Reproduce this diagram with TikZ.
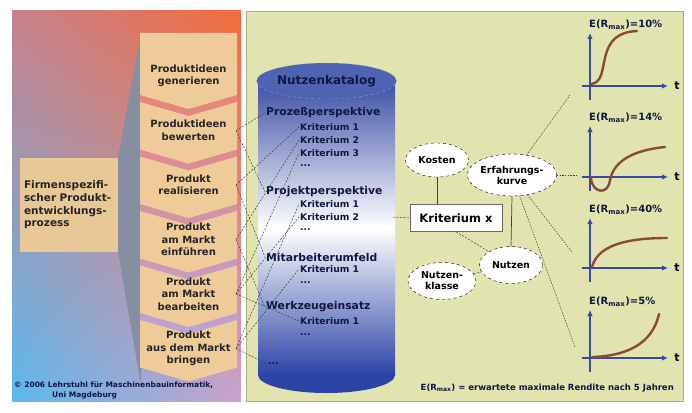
\documentclass[tikz,border=0pt]{standalone}
\usepackage{fontspec}
\setmainfont{DejaVu Sans}
\usetikzlibrary{arrows.meta,positioning,shapes.geometric,shadings}

\definecolor{panelgreen}{HTML}{E1E4AE}
\definecolor{panelrim}{HTML}{A9AC85}
\definecolor{steptan}{HTML}{EECB99}
\definecolor{boxtan}{HTML}{E9C898}
\definecolor{wedgegrey}{HTML}{868EA2}
\definecolor{bandred}{HTML}{E8857A}
\definecolor{bandlilac}{HTML}{BBA4D6}
\definecolor{bgmauve}{HTML}{C8828E}
\definecolor{bgorange}{HTML}{F26C3A}
\definecolor{bgblue}{HTML}{5BB9EE}
\definecolor{bglilac}{HTML}{C9A2CC}
\definecolor{cylblue}{HTML}{3C4FA5}
\definecolor{cyldark}{HTML}{2C44A6}
\definecolor{cyllid}{HTML}{4F63B3}
\definecolor{cylrim}{HTML}{8A9AD8}
\definecolor{navy}{HTML}{101844}
\definecolor{axisblue}{HTML}{3A4AA2}
\definecolor{curvebrown}{HTML}{8A4A38}
\definecolor{linkgrey}{HTML}{3E4434}

\begin{document}
\begin{tikzpicture}[x=1pt, y=-1pt, every node/.style={font=\bfseries},
  steptext/.style={font=\bfseries\fontsize{10}{12.5}\selectfont, align=center, text=black!85},
  firmbox/.style={fill=boxtan, text width=90pt, align=left, minimum height=94pt, inner sep=4pt,
    font=\bfseries\fontsize{10.5}{12.7}\selectfont, text=black!85},
  head/.style={anchor=west, inner sep=1pt, text=navy, font=\bfseries\fontsize{10.8}{12}\selectfont},
  crit/.style={anchor=west, inner sep=1pt, text=navy, font=\bfseries\fontsize{9.2}{11}\selectfont},
  bubble/.style={ellipse, draw, dashed, fill=white, inner sep=0pt, align=center,
    font=\bfseries\fontsize{9.5}{11}\selectfont},
  catlink/.style={linkgrey, line width=0.5pt, dash pattern=on 2pt off 1.5pt},
  chartaxis/.style={axisblue, line width=1.6pt, -{Latex[length=6pt,width=5.5pt]}},
  rcurve/.style={curvebrown, line width=2.4pt, line cap=round},
  charttitle/.style={anchor=west, inner sep=1pt, text=navy, font=\bfseries\fontsize{10}{12}\selectfont}]
\useasboundingbox (0,0) rectangle (692,412);
\fill[white] (0,0) rectangle (692,412);

% left panel: process
\shade[upper left=bgmauve, upper right=bgorange, lower left=bgblue, lower right=bglilac]
  (12,11) rectangle (241,401);
\fill[wedgegrey] (118,158) -- (141,32) -- (141,385) -- (118,252) -- cycle;
\node[firmbox] (fp) at (69,205) {Firmenspezifi-\\scher Produkt-\\entwicklungs-\\prozess};
\shade[top color=bandred, bottom color=bandlilac]
  (140,95) -- (188.5,109) -- (237,95) -- (237,330) -- (188.5,344) -- (140,330) -- cycle;
\foreach \lbl [count=\i] in {{Produktideen\\generieren}, {Produktideen\\bewerten}, {Produkt\\realisieren},
    {Produkt\\am Markt\\einführen}, {Produkt\\am Markt\\bearbeiten}, {Produkt\\aus dem Markt\\bringen}}{
  \pgfmathsetmacro\yb{95+54.5*(\i-1)}
  \pgfmathsetmacro\yt{\i==1 ? 33 : \yb-47.5}
  \pgfmathsetmacro\dn{\i==1 ? 0 : 14}
  \fill[steptan] (140,\yt) -- (188.5,\yt+\dn) -- (237,\yt) -- (237,\yb) -- (188.5,\yb+14) -- (140,\yb) -- cycle;
  \node[steptext] (s\i) at (188.5,\yb-19) {\lbl};
  \coordinate (c\i) at (236,\yb-19);
}
\node[anchor=west, inner sep=0pt, text=navy, font=\bfseries\fontsize{7.5}{9}\selectfont] (cp1) at (14,385)
  {© 2006 Lehrstuhl für Maschinenbauinformatik,};
\node[anchor=west, inner sep=0pt, text=navy, font=\bfseries\fontsize{7.5}{9}\selectfont] (cp2) at (52,395)
  {Uni Magdeburg};

% right panel: catalogue
\filldraw[fill=panelgreen, draw=panelrim] (246,11) rectangle (683,401);
\fill[cyldark] (326.5,375) ellipse [x radius=68.5, y radius=18];
\shade[top color=cylblue, bottom color=cyldark, middle color=white] (258,81) rectangle (395,375);
\node[ellipse, draw=cylrim, dashed, fill=cyllid, minimum width=137pt, minimum height=36pt, inner sep=0pt,
  text=navy, font=\bfseries\fontsize{12}{14}\selectfont] (kat) at (326.5,81) {Nutzenkatalog};

\node[head] (pp) at (265,113) {Prozeßperspektive};
\node[crit] (pp1) at (299,127) {Kriterium 1};
\node[crit] (pp2) at (299,140) {Kriterium 2};
\node[crit] (pp3) at (299,153) {Kriterium 3};
\node[crit] (ppd) at (299,166) {...};
\node[head] (pj) at (265,192) {Projektperspektive};
\node[crit] (pj1) at (299,204) {Kriterium 1};
\node[crit] (pj2) at (299,217) {Kriterium 2};
\node[crit] (pjd) at (299,230) {...};
\node[head] (ma) at (265,257) {Mitarbeiterumfeld};
\node[crit] (ma1) at (299,269) {Kriterium 1};
\node[crit] (mad) at (299,283) {...};
\node[head] (wz) at (265,307) {Werkzeugeinsatz};
\node[crit] (wz1) at (299,321) {Kriterium 1};
\node[crit] (wzd) at (299,335) {...};
\node[crit] (dd) at (267,364) {...};

% process steps to catalogue
\draw[catlink] (c2) -- (pp.west);  \draw[catlink] (c2) -- (pj.west);
\draw[catlink] (c3) -- (pp1.west); \draw[catlink] (c4) -- (pp2.west);
\draw[catlink] (c5) -- (pp3.west); \draw[catlink] (c6) -- (pj1.west);
\draw[catlink] (c3) -- (ma.west);  \draw[catlink] (c4) -- (wz.west);
\draw[catlink] (c5) -- (pj2.west); \draw[catlink] (c6) -- (ma1.west);
\draw[catlink] (c5) -- (wz1.west); \draw[catlink] (c6) -- (dd.west);

% criterion
\node[bubble, minimum width=63pt, minimum height=34pt] (ko) at (437,160) {Kosten};
\node[bubble, minimum width=80pt, minimum height=42pt] (ek) at (512,175) {Erfahrungs-\\kurve};
\node[draw=black!60, fill=white, minimum width=92pt, minimum height=27pt,
  font=\bfseries\fontsize{11.5}{13}\selectfont] (kx) at (456,218) {Kriterium x};
\node[bubble, minimum width=63pt, minimum height=37pt] (nu) at (511,265) {Nutzen};
\node[bubble, minimum width=68pt, minimum height=37pt] (nkl) at (442,281) {Nutzen-\\klasse};
\draw[black!75, line width=0.7pt] (ko.south) -- (ko.south |- kx.north);
\draw[black!75, line width=0.7pt] (ek.south) -- (nu.north);
\draw[catlink] (kx.south) -- (nu);
\draw[catlink] (nkl) -- (nu);
\coordinate (kc) at (393,217);
\draw[catlink] (kc) -- (kx.west);

% charts
\foreach \pc/\ty/\xa [count=\j] in {10/25/86, 14/118/177, 40/210/268, 5/302/358}{
  \node[charttitle] (t\j) at (588,\ty) {E(R\textsubscript{max})=\pc\%};
  \draw[chartaxis] (590,\xa+14) -- (590,\ty+8);
  \draw[chartaxis] (582,\xa) -- (668,\xa);
  \node[inner sep=0pt, font=\bfseries\fontsize{11}{12}\selectfont] (tx\j) at (677,\xa) {t};
}
\draw[rcurve] (591,84) .. controls (602,83) and (602,70) .. (605,58) .. controls (609,40) and (618,32) .. (637,31);
\draw[rcurve] (591,178) .. controls (592,193) and (608,196) .. (610,180) .. controls (614,160) and (635,150) .. (665,147);
\draw[rcurve] (592,267) .. controls (597,248) and (620,238) .. (667,238);
\draw[rcurve] (592,357) .. controls (625,356) and (652,345) .. (659,314);
\coordinate (g1) at (570,95);  \coordinate (g2) at (576,175);
\coordinate (g3) at (572,252); \coordinate (g4) at (575,347);
\foreach \j in {1,...,4} \draw[catlink, dash pattern=on 1.5pt off 1.2pt] (ek) -- (g\j);

\node[anchor=east, inner sep=0pt, text=navy, font=\bfseries\fontsize{8.5}{10}\selectfont] (note) at (674,388)
  {E(R\textsubscript{max}) = erwartete maximale Rendite nach 5 Jahren};
\end{tikzpicture}
\end{document}
